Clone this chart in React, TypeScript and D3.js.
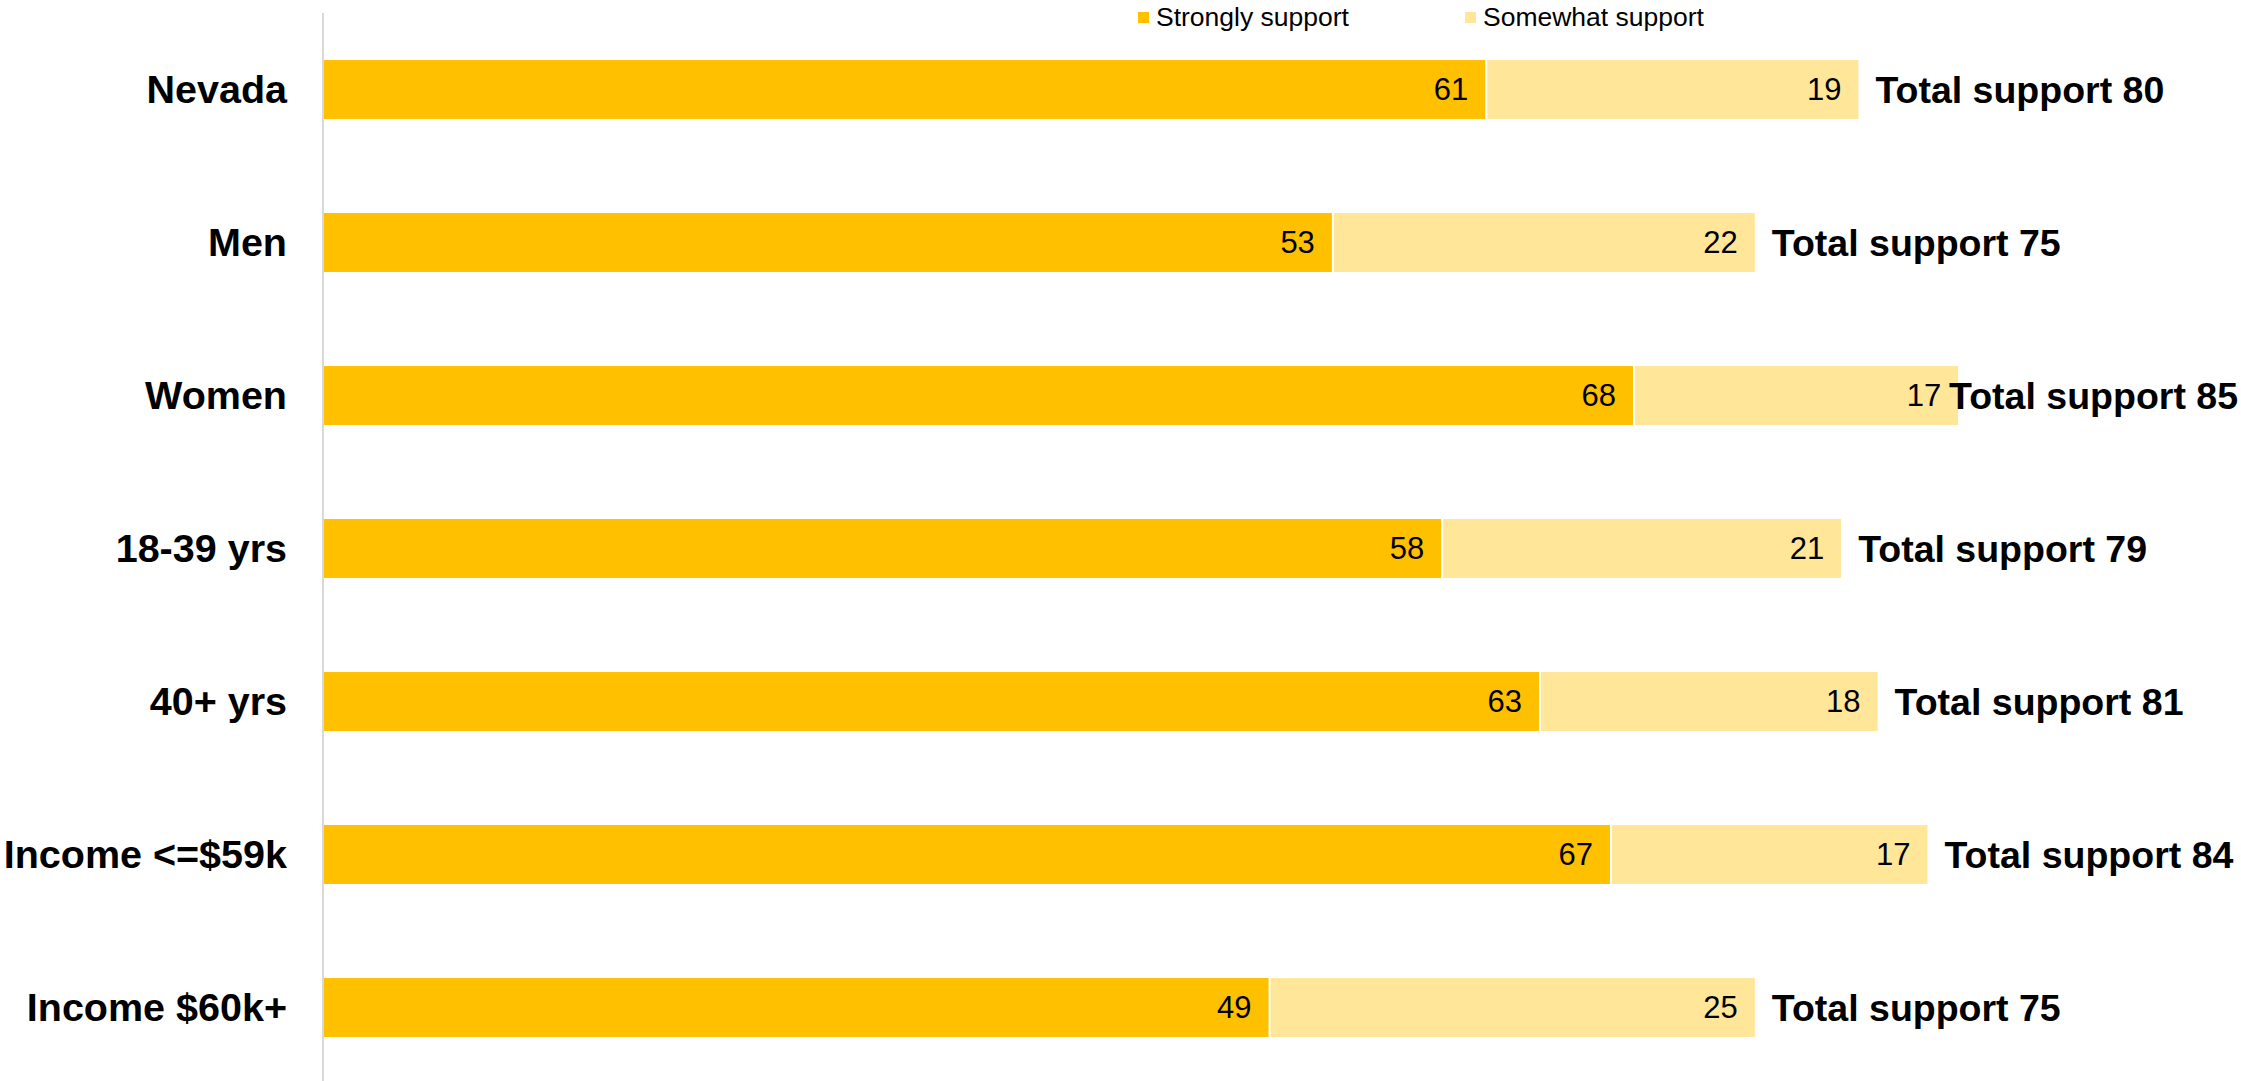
import React, { useEffect, useRef } from "react";
import * as d3 from "d3";

const categories = [
  "Nevada",
  "Men",
  "Women",
  "18-39 yrs",
  "40+ yrs",
  "Income <=$59k",
  "Income $60k+",
];
// unrounded shares; labels show them rounded
const stronglySupport = [60.6, 52.6, 68.3, 58.3, 63.4, 67.1, 49.3];
const somewhatSupport = [19.4, 22.0, 16.9, 20.8, 17.6, 16.5, 25.3];
const seriesNames = ["Strongly support", "Somewhat support"];
const seriesColors = ["#FFC000", "#FFE699"];

const W = 2241;
const H = 1081;
const FONT = "'Liberation Sans', Arial, sans-serif";

const App = () => {
  const svgRef = useRef<SVGSVGElement>(null);

  useEffect(() => {
    const svg = d3.select(svgRef.current);
    svg.selectAll("*").remove();

    const x = d3.scaleLinear().domain([0, 100]).range([324, 2242]);
    const y = d3
      .scaleBand()
      .domain(categories)
      .range([13, 13 + 153 * categories.length])
      .paddingInner(0.615)
      .paddingOuter(0.3075);

    const rows = categories.map((c, i) => ({
      label: c,
      strong: stronglySupport[i],
      some: somewhatSupport[i],
      total: stronglySupport[i] + somewhatSupport[i],
    }));

    // axis line
    svg
      .append("line")
      .attr("x1", 323)
      .attr("x2", 323)
      .attr("y1", 13)
      .attr("y2", H)
      .attr("stroke", "#d9d9d9")
      .attr("stroke-width", 2);

    const g = svg
      .selectAll(".row")
      .data(rows)
      .enter()
      .append("g")
      .attr("class", "row");

    g.append("rect")
      .attr("x", x(0))
      .attr("y", (d) => y(d.label)!)
      .attr("width", (d) => x(d.strong) - x(0) - 1)
      .attr("height", y.bandwidth())
      .attr("fill", seriesColors[0]);

    g.append("rect")
      .attr("x", (d) => x(d.strong) + 1)
      .attr("y", (d) => y(d.label)!)
      .attr("width", (d) => x(d.total) - x(d.strong) - 1)
      .attr("height", y.bandwidth())
      .attr("fill", seriesColors[1]);

    const cy = (d) => y(d.label)! + y.bandwidth() / 2;

    // category labels
    g.append("text")
      .attr("x", 287)
      .attr("y", cy)
      .attr("dy", "0.35em")
      .attr("text-anchor", "end")
      .attr("font-family", FONT)
      .attr("font-weight", "bold")
      .attr("font-size", 39.5)
      .attr("fill", "#000")
      .text((d) => d.label);

    // value labels
    g.append("text")
      .attr("x", (d) => x(d.strong) - 18)
      .attr("y", cy)
      .attr("dy", "0.35em")
      .attr("text-anchor", "end")
      .attr("font-family", FONT)
      .attr("font-size", 31)
      .attr("fill", "#000")
      .text((d) => Math.round(d.strong));

    g.append("text")
      .attr("x", (d) => x(d.total) - 17)
      .attr("y", cy)
      .attr("dy", "0.35em")
      .attr("text-anchor", "end")
      .attr("font-family", FONT)
      .attr("font-size", 31)
      .attr("fill", "#000")
      .text((d) => Math.round(d.some));

    // total labels, pushed left when they would run off the edge
    g.append("text")
      .attr("x", (d) => x(d.total) + 17)
      .attr("y", cy)
      .attr("dy", "0.35em")
      .attr("font-family", FONT)
      .attr("font-weight", "bold")
      .attr("font-size", 37.5)
      .attr("fill", "#000")
      .text((d) => `Total support ${Math.round(d.total)}`)
      .each(function (d) {
        const el = this as SVGTextElement;
        const len = el.getComputedTextLength();
        const start = x(d.total) + 17;
        if (start + len > W - 3) el.setAttribute("x", String(W - 3 - len));
      });

    // legend
    const legendX = [1138, 1465];
    const lg = svg
      .selectAll(".legend")
      .data(seriesNames)
      .enter()
      .append("g")
      .attr("class", "legend")
      .attr("transform", (_, i) => `translate(${legendX[i]}, 12)`);

    lg.append("rect")
      .attr("width", 11)
      .attr("height", 11)
      .attr("fill", (_, i) => seriesColors[i]);

    lg.append("text")
      .attr("x", 18)
      .attr("y", 14)
      .attr("font-family", FONT)
      .attr("font-size", 26.5)
      .attr("fill", "#000")
      .text((d) => d);
  }, []);

  return (
    <svg
      ref={svgRef}
      width={W}
      height={H}
      style={{ position: "absolute", left: 0, top: 0, background: "#fff" }}
    ></svg>
  );
};

export default App;
